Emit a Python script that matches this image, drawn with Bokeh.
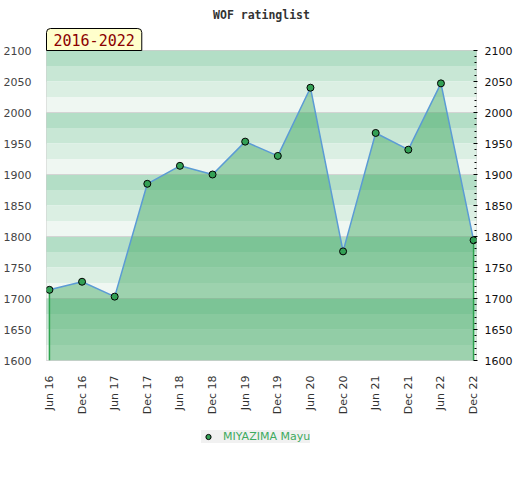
from bokeh.plotting import figure
from bokeh.layouts import column
from bokeh.models import Range1d, FixedTicker, LinearAxis, Title, Legend, LegendItem
from bokeh.embed import file_html
from bokeh.resources import INLINE
import numpy as np

# ---- data ----
periods = ["Jun 16", "Dec 16", "Jun 17", "Dec 17", "Jun 18", "Dec 18", "Jun 19",
           "Dec 19", "Jun 20", "Dec 20", "Jun 21", "Dec 21", "Jun 22", "Dec 22"]
ratings = [1714, 1727, 1703, 1885, 1914, 1900, 1953, 1930, 2040, 1776, 1967, 1940, 2047, 1794]
player = "MIYAZIMA Mayu"
chart_title = "WOF ratinglist"
span_label = "2016-2022"
y_ticks = [1600, 1650, 1700, 1750, 1800, 1850, 1900, 1950, 2000, 2050, 2100]
y_min, y_max = 1600, 2100

x = list(range(len(periods)))
pad = 0.09

p = figure(width=520, height=410, frame_width=430, frame_height=310,
           output_backend="svg", toolbar_location=None,
           x_range=Range1d(-pad, len(periods) - 1 + pad), y_range=Range1d(y_min, y_max),
           min_border_left=45, min_border_right=45, min_border_top=50, min_border_bottom=50,
           background_fill_color="white", border_fill_color="white",
           outline_line_color="#cccccc", title=None)

# background stripes (25-unit bands, 4 shades per 100)
shades = ["#b3dec6", "#c8e7d5", "#dbefe3", "#eff7f2"]
tops = np.arange(y_max, y_min, -25)
cols = [shades[int((y_max - t) // 25) % 4] for t in tops]
stripes = p.quad(left=-1, right=len(periods) + 1, top=tops, bottom=tops - 25,
                 fill_color=cols, line_color=None)
stripes.level = "image"

p.xgrid.visible = False
p.ygrid.ticker = FixedTicker(ticks=[1700, 1800, 1900, 2000])
p.ygrid.grid_line_color = "#d4d4d4"
p.ygrid.grid_line_width = 1

# area, edges, line, markers
marker_style = dict(size=7, fill_color="#33a055", line_color="black", line_width=1)
p.varea(x=x, y1=y_min, y2=ratings, fill_color="#3aa35a", fill_alpha=0.45)
p.segment(x0=[x[0], x[-1]], y0=[ratings[0], ratings[-1]], x1=[x[0], x[-1]],
          y1=[y_min, y_min], line_color="#2ea44f", line_width=1.5)
p.line(x, ratings, line_color="#5b9bd5", line_width=1.5)
p.scatter(x, ratings, **marker_style)

# axes
ticker = FixedTicker(ticks=y_ticks, minor_ticks=list(range(y_min, y_max + 1, 10)))
la = p.yaxis[0]
la.ticker = ticker
la.axis_line_color = None
la.major_tick_line_color = None
la.minor_tick_line_color = None
la.major_label_standoff = 9
la.major_label_text_font = "DejaVu Sans"
la.major_label_text_font_size = "11px"
la.major_label_text_color = "#444444"

ra = LinearAxis(ticker=ticker)
ra.axis_line_color = None
ra.major_tick_in = 3
ra.major_tick_out = 1
ra.minor_tick_in = 2
ra.minor_tick_out = 0
ra.major_tick_line_color = "black"
ra.minor_tick_line_color = "black"
ra.major_label_standoff = 7
ra.major_label_text_font = "DejaVu Sans"
ra.major_label_text_font_size = "11px"
ra.major_label_text_color = "#111111"
p.add_layout(ra, "right")

xa = p.xaxis[0]
xa.ticker = FixedTicker(ticks=x)
xa.major_label_overrides = {i: s for i, s in zip(x, periods)}
xa.major_label_orientation = np.pi / 2
xa.axis_line_color = None
xa.major_tick_line_color = None
xa.minor_tick_line_color = None
xa.major_label_standoff = 9
xa.major_label_text_font = "DejaVu Sans"
xa.major_label_text_font_size = "11px"
xa.major_label_text_color = "#333333"

# period label (closest to frame), then chart title
p.add_layout(Title(text=span_label, align="left", offset=0, standoff=0,
                   text_font="DejaVu Sans Mono", text_font_style="normal",
                   text_font_size="15px", text_color="#8b0000",
                   background_fill_color="#ffffcc", border_line_color="black",
                   border_line_width=1, padding=(7, 5), border_radius=(4, 4, 0, 0)), "above")
p.add_layout(Title(text=chart_title, align="center", standoff=10,
                   text_font="DejaVu Sans Mono", text_font_style="bold",
                   text_font_size="11.5px", text_color="#333333"), "above")

# legend strip below the chart (its key reuses the series; points fall outside its view)
lf = figure(width=520, height=70, output_backend="svg", toolbar_location=None,
            x_range=Range1d(0, 1), y_range=Range1d(0, 1),
            min_border=0, outline_line_color=None, background_fill_color="white",
            border_fill_color="white", title=None)
lf.axis.visible = False
lf.grid.visible = False
key = lf.scatter(x=x, y=ratings, **marker_style)
legend = Legend(items=[LegendItem(label=player, renderers=[key])], location=(155, 44),
                orientation="horizontal", background_fill_color="#f0f0f0",
                border_line_color=None, label_text_color="#3daa5e",
                label_text_font="DejaVu Sans", label_text_font_size="11px",
                glyph_width=14, glyph_height=13, label_height=13, label_standoff=8,
                padding=3, margin=0)
lf.add_layout(legend, "center")

layout = column(p, lf, spacing=0)
open("out.html", "w").write(file_html(layout, INLINE))
